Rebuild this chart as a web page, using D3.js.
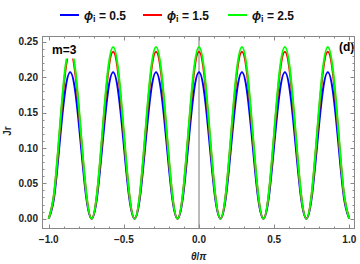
<!DOCTYPE html>
<html><head><meta charset="utf-8">
<script src="https://cdn.jsdelivr.net/npm/d3@7"></script>
<style>body{margin:0;background:#fff}svg{display:block}text{font-family:"Liberation Sans",Arial,sans-serif}</style>
</head><body><svg id="c" width="360" height="264"></svg>
<script>
// theta/pi sample positions: -1 .. 1 in steps of 1/28
const thetaSamples = d3.range(57).map(k => -1 + k / 28);
const jrPhi05 = [0,0.030,0.104,0.177,0.207,0.177,0.104,0.030,
 0,0.030,0.104,0.177,0.207,0.177,0.104,0.030,
 0,0.030,0.104,0.177,0.207,0.177,0.104,0.030,
 0,0.030,0.104,0.177,0.207,0.177,0.104,0.030,
 0,0.030,0.104,0.177,0.207,0.177,0.104,0.030,
 0,0.030,0.104,0.177,0.207,0.177,0.104,0.030,
 0,0.030,0.104,0.177,0.207,0.177,0.104,0.030,0];
const jrPhi15 = [0,0.035,0.118,0.202,0.236,0.202,0.118,0.035,
 0,0.035,0.118,0.202,0.236,0.202,0.118,0.035,
 0,0.035,0.118,0.202,0.236,0.202,0.118,0.035,
 0,0.035,0.118,0.202,0.236,0.202,0.118,0.035,
 0,0.035,0.118,0.202,0.236,0.202,0.118,0.035,
 0,0.035,0.118,0.202,0.236,0.202,0.118,0.035,
 0,0.035,0.118,0.202,0.236,0.202,0.118,0.035,0];
const jrPhi25 = [0,0.036,0.122,0.208,0.243,0.208,0.122,0.036,
 0,0.036,0.122,0.208,0.243,0.208,0.122,0.036,
 0,0.036,0.122,0.208,0.243,0.208,0.122,0.036,
 0,0.036,0.122,0.208,0.243,0.208,0.122,0.036,
 0,0.036,0.122,0.208,0.243,0.208,0.122,0.036,
 0,0.036,0.122,0.208,0.243,0.208,0.122,0.036,
 0,0.036,0.122,0.208,0.243,0.208,0.122,0.036,0];
const seriesNames = ["0.5","1.5","2.5"];
const seriesColors = ["#0000ff","#ff0000","#00ff00"];
const xTickValues = [-1.0,-0.5,0.0,0.5,1.0];
const xTickLabels = ["\u22121.0","\u22120.5","0.0","0.5","1.0"];
const yTickValues = [0.00,0.05,0.10,0.15,0.20,0.25];
const yTickLabels = ["0.00","0.05","0.10","0.15","0.20","0.25"];

const svg = d3.select("#c");
const L=42.5, R=354.5, T=36.5, B=228.5;
const x = d3.scaleLinear().domain([-1,1]).range([48.7,349.3]);
const y = d3.scaleLinear().domain([0,0.25]).range([218.7,41.95]);
const frameCol = "#888";

// vertical axis line at 0
svg.append("line").attr("x1",x(0)).attr("x2",x(0)).attr("y1",T).attr("y2",B)
  .attr("stroke","#777").attr("stroke-width",1);

// curves
const allSeries=[jrPhi05,jrPhi15,jrPhi25];
const line = d3.line().x((d,i)=>x(thetaSamples[i])).y(d=>y(d)).curve(d3.curveNatural);
const plotG = svg.append("g");
allSeries.forEach((s,i)=>{
  plotG.append("path").attr("d",line(s)).attr("fill","none")
    .attr("stroke",seriesColors[i]).attr("stroke-width",2);
});

// label m=3 with white background
svg.append("rect").attr("x",49).attr("y",T+1).attr("width",31).attr("height",21).attr("fill","#fff");
svg.append("text").attr("x",52).attr("y",54).attr("font-size",12).attr("font-weight","bold").text("m=3");
svg.append("text").attr("x",339).attr("y",51).attr("font-size",12).attr("font-weight","bold").text("(d)");

// frame
svg.append("rect").attr("x",L).attr("y",T).attr("width",R-L).attr("height",B-T)
  .attr("fill","none").attr("stroke",frameCol).attr("stroke-width",1);

// ticks
const tg = svg.append("g").attr("stroke",frameCol).attr("stroke-width",1);
d3.range(-10,11).forEach(k=>{
  const v=k/10, px=Math.round(x(v))+0.5, len=(k%5===0)?4:2;
  tg.append("line").attr("x1",px).attr("x2",px).attr("y1",B).attr("y2",B-len);
  tg.append("line").attr("x1",px).attr("x2",px).attr("y1",T).attr("y2",T+len);
});
d3.range(0,26).forEach(k=>{
  const v=k/100, py=Math.round(y(v))+0.5, len=(k%5===0)?4:2;
  tg.append("line").attr("x1",L).attr("x2",L+len).attr("y1",py).attr("y2",py);
  tg.append("line").attr("x1",R).attr("x2",R-len).attr("y1",py).attr("y2",py);
});

// tick labels
xTickValues.forEach((v,i)=>{
  svg.append("text").attr("x",x(v)).attr("y",243).attr("text-anchor","middle")
    .attr("font-size",10).attr("font-weight","bold").attr("fill","#222").text(xTickLabels[i]);
});
yTickValues.forEach((v,i)=>{
  svg.append("text").attr("x",38).attr("y",y(v)+3.5).attr("text-anchor","end")
    .attr("font-size",10).attr("font-weight","bold").attr("fill","#222").text(yTickLabels[i]);
});

// axis labels
svg.append("text").attr("transform","translate(11,131) rotate(-90)").attr("text-anchor","middle")
  .attr("font-size",10).attr("font-weight","bold").attr("fill","#222").text("Jr");
const xl = svg.append("text").attr("x",198.7).attr("y",260).attr("text-anchor","middle")
  .attr("font-size",10).attr("font-weight","bold").attr("fill","#222");
xl.append("tspan").attr("font-style","italic").text("\u03b8");
xl.append("tspan").text("/");
xl.append("tspan").attr("font-style","italic").text("\u03c0");

// legend
const legX=[60,143,228];
seriesNames.forEach((n,i)=>{
  svg.append("line").attr("x1",legX[i]).attr("x2",legX[i]+19).attr("y1",15).attr("y2",15)
    .attr("stroke",seriesColors[i]).attr("stroke-width",2);
  const t = svg.append("text").attr("x",legX[i]+24).attr("y",19.5).attr("font-size",12)
    .attr("font-weight","bold").attr("fill","#111");
  t.append("tspan").attr("font-style","italic").text("\u03d5");
  t.append("tspan").attr("font-size",9).attr("dy",2).text("i");
  t.append("tspan").attr("dy",-2).text(" = "+n);
});
</script></body></html>
